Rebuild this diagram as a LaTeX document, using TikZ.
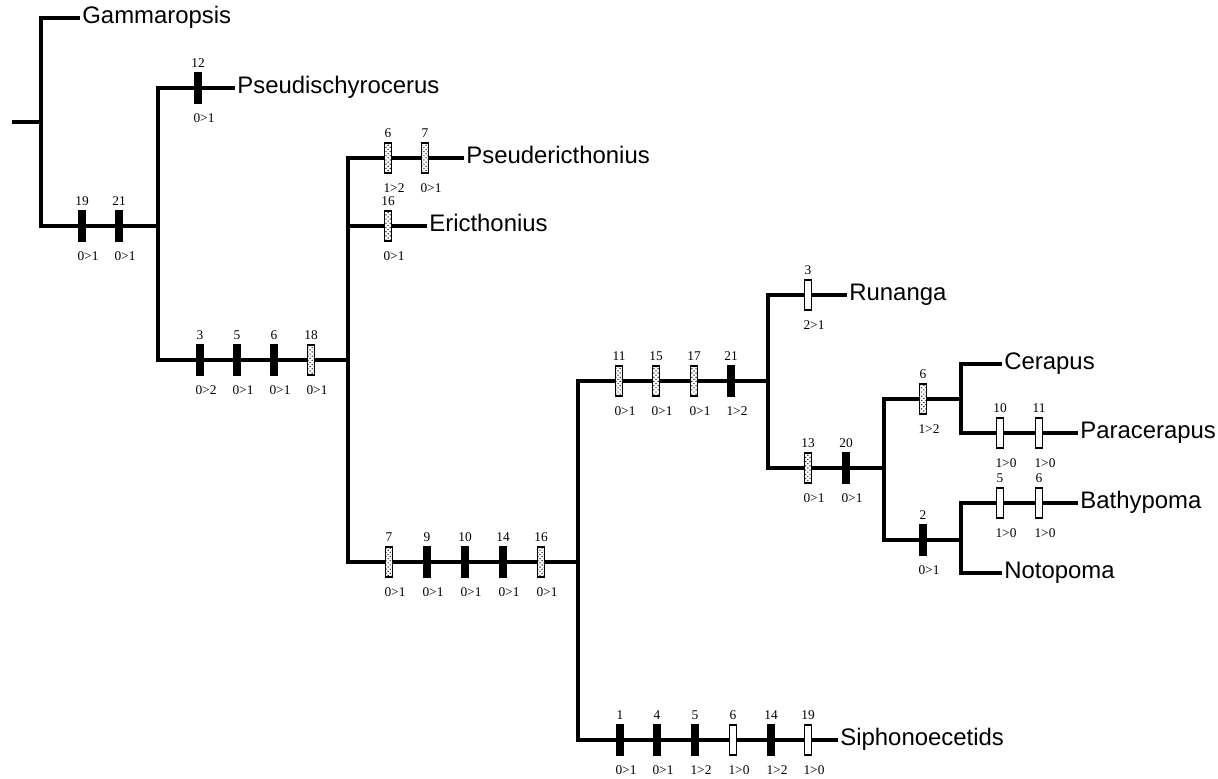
\documentclass[tikz,border=0pt]{standalone}
\usepackage{fontspec}
\setmainfont{Liberation Serif}
\newfontfamily\taxfont{Liberation Sans}
\usetikzlibrary{patterns}

\tikzset{
	branch/.style={line width=2.3pt},
	taxon/.style={anchor=west, inner sep=1.5pt, text height=0.716em, text depth=0pt,
		font=\taxfont\fontsize{17}{19}\selectfont},
	num/.style={inner sep=0pt, font=\fontsize{9.5}{10}\selectfont},
	bar/.style={draw, line width=0.8pt, minimum width=0.16cm, minimum height=0.75cm, inner sep=0pt},
	chg/.style 2 args={label={[num, label distance=0.12cm]above:#1},
		label={[num, label distance=0.25cm, xshift=0.15cm]below:#2}},
	apo/.style 2 args={bar, fill=black, chg={#1}{#2}},
	rev/.style 2 args={bar, fill=white, chg={#1}{#2}},
	hom/.style 2 args={bar, preaction={fill=white}, pattern=crosshatch dots, chg={#1}{#2}}
}

\begin{document}
\begin{tikzpicture}[x=0.025cm, y=-0.025cm]
	\useasboundingbox (0,0) rectangle (1218,778);
	
	% junctions
	\coordinate (root) at (12,122);
	\coordinate (n1) at (41,122);
	\coordinate (n2) at (158,226);
	\coordinate (n3) at (348,360);
	\coordinate (n4) at (578,562);
	\coordinate (n5) at (768,381);
	\coordinate (n6) at (884,468);
	\coordinate (n7) at (961,399);
	\coordinate (n8) at (961,540);
	
	% taxa
	\node[taxon] (gam) at (80,18) {Gammaropsis};
	\node[taxon] (pseudis) at (235,88) {Pseudischyrocerus};
	\node[taxon] (pseuderi) at (464,158) {Pseudericthonius};
	\node[taxon] (erich) at (427,226) {Ericthonius};
	\node[taxon] (runanga) at (847,295) {Runanga};
	\node[taxon] (cerapus) at (1002,364) {Cerapus};
	\node[taxon] (paracer) at (1078,433) {Paracerapus};
	\node[taxon] (bathy) at (1078,503) {Bathypoma};
	\node[taxon] (noto) at (1002,573) {Notopoma};
	\node[taxon] (siph) at (838,740) {Siphonoecetids};
	
	% tree
	\draw[branch] (root) -- (n1);
	\draw[branch] (gam.west) -| (n1) |- (n2);
	\draw[branch] (pseudis.west) -| (n2) |- (n3);
	\draw[branch] (pseuderi.west) -| (n3) |- (n4);
	\draw[branch] (erich.west) -- (erich.west -| n3);
	\draw[branch] (n5) -| (n4) |- (siph.west);
	\draw[branch] (runanga.west) -| (n5) |- (n6);
	\draw[branch] (n7) -| (n6) |- (n8);
	\draw[branch] (cerapus.west) -| (n7) |- (paracer.west);
	\draw[branch] (bathy.west) -| (n8) |- (noto.west);
	
	% character changes
	\node[apo={19}{0>1}] (a19) at (82,226) {};
	\node[apo={21}{0>1}] (a21) at (119,226) {};
	\node[apo={12}{0>1}] (b12) at (198,88) {};
	\node[apo={3}{0>2}] (c3) at (200,360) {};
	\node[apo={5}{0>1}] (c5) at (237,360) {};
	\node[apo={6}{0>1}] (c6) at (274,360) {};
	\node[hom={18}{0>1}] (c18) at (311,360) {};
	\node[hom={6}{1>2}] (d6) at (388,158) {};
	\node[hom={7}{0>1}] (d7) at (425,158) {};
	\node[hom={16}{0>1}] (e16) at (388,226) {};
	\node[hom={7}{0>1}] (f7) at (389,562) {};
	\node[apo={9}{0>1}] (f9) at (427,562) {};
	\node[apo={10}{0>1}] (f10) at (465,562) {};
	\node[apo={14}{0>1}] (f14) at (503,562) {};
	\node[hom={16}{0>1}] (f16) at (541,562) {};
	\node[hom={11}{0>1}] (g11) at (619,381) {};
	\node[hom={15}{0>1}] (g15) at (656,381) {};
	\node[hom={17}{0>1}] (g17) at (694,381) {};
	\node[apo={21}{1>2}] (g21) at (731,381) {};
	\node[apo={1}{0>1}] (h1) at (620,740) {};
	\node[apo={4}{0>1}] (h4) at (657,740) {};
	\node[apo={5}{1>2}] (h5) at (695,740) {};
	\node[rev={6}{1>0}] (h6) at (733,740) {};
	\node[apo={14}{1>2}] (h14) at (771,740) {};
	\node[rev={19}{1>0}] (h19) at (808,740) {};
	\node[rev={3}{2>1}] (i3) at (808,295) {};
	\node[hom={13}{0>1}] (j13) at (808,468) {};
	\node[apo={20}{0>1}] (j20) at (846,468) {};
	\node[hom={6}{1>2}] (k6) at (923,399) {};
	\node[apo={2}{0>1}] (l2) at (923,540) {};
	\node[rev={10}{1>0}] (m10) at (1000,433) {};
	\node[rev={11}{1>0}] (m11) at (1039,433) {};
	\node[rev={5}{1>0}] (p5) at (1000,503) {};
	\node[rev={6}{1>0}] (p6) at (1039,503) {};
\end{tikzpicture}
\end{document}
